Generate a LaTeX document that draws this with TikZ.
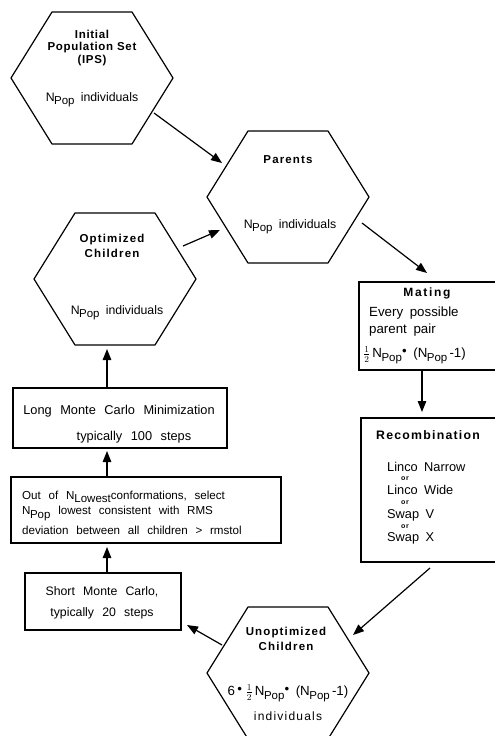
\documentclass[tikz,border=0pt]{standalone}
\usepackage{fontspec}
\setmainfont{Liberation Sans}[WordSpace=2.4]
\newfontfamily\plainfam{Liberation Sans}
\newfontfamily\midfam{Liberation Sans}[WordSpace=1.8]
\newfontfamily\titlefam{Liberation Sans}[LetterSpace=10,WordSpace=1.2]
\newfontfamily\titletight{Liberation Sans}[LetterSpace=6,WordSpace=1.0]
\newfontfamily\titlewide{Liberation Sans}[LetterSpace=14]
\usetikzlibrary{arrows.meta,calc}
\newcommand\Np{N\kern-0.5pt\raisebox{-0.5ex}{\fontsize{11.5}{11.5}\selectfont Pop}}
\newcommand\Nlow{N\raisebox{-0.5ex}{\fontsize{11.5}{11.5}\selectfont Lowest}}
\newcommand\halfof{$\frac{1}{2}$}
\newcommand\mdot{\raisebox{0.35ex}{\textbullet}}
\newcommand\orword{{\titlefam\bfseries\fontsize{7}{7}\selectfont or}}
\tikzset{
  x=1pt, y=-1pt,
  hexbox/.style={draw=none, minimum width=162pt, minimum height=132pt, inner sep=0pt, outer sep=0pt},
  hexline/.style={line width=1.2pt, line join=round},
  boxnode/.style={draw, line width=1.1pt, inner sep=0pt, outer sep=0pt},
  ttl/.style={font=\titlefam\bfseries\fontsize{11.5}{15.5}\selectfont, inner sep=0pt, align=center},
  ttlw/.style={font=\titlewide\bfseries\fontsize{12}{15}\selectfont, inner sep=0pt, align=center},
  txt/.style={font=\fontsize{12.3}{16.5}\selectfont, inner sep=0pt},
  txtn/.style={font=\plainfam\fontsize{12.8}{17}\selectfont, inner sep=0pt},
  txtm/.style={font=\midfam\fontsize{13.3}{17}\selectfont, inner sep=0pt},
  hexn/.style={font=\plainfam\fontsize{12.3}{15}\selectfont, inner sep=0pt},
  arr/.style={line width=1.2pt, -{Triangle[length=11pt,width=8.5pt]}},
}
\newcommand\hexat[2]{%
  \node[hexbox] (#1) at (#2) {};
  \draw[hexline] (#1.west) -- ([xshift=41pt]#1.north west) -- ([xshift=-41pt]#1.north east)
    -- (#1.east) -- ([xshift=-41pt]#1.south east) -- ([xshift=41pt]#1.south west) -- cycle;}
\begin{document}
\begin{tikzpicture}
\useasboundingbox (0,0) rectangle (495,736);
\clip (0,0) rectangle (495,736);
\fill[white] (0,0) rectangle (495,736);

% hexagons
\hexat{ips}{92,78}
\hexat{parents}{288,197}
\hexat{opt}{115,279}
\hexat{unopt}{288,673}

% boxes
\node[boxnode, minimum width=138pt, minimum height=88pt] (mating) at (428,326) {};
\node[boxnode, minimum width=136pt, minimum height=144pt] (recomb) at (429,490) {};
\node[boxnode, minimum width=214pt, minimum height=60pt] (longmc) at (120,418) {};
\node[boxnode, minimum width=270pt, minimum height=66pt] (select) at (146,510) {};
\node[boxnode, minimum width=156pt, minimum height=57pt] (shortmc) at (103,601.5) {};

% hexagon texts
\node[ttl, font=\titletight\bfseries\fontsize{11.5}{12.8}\selectfont] (ipsT) at (92,48) {Initial\\Population Set\\(IPS)};
\node[hexn] (ipsN) at (92,100) {\Np\ individuals};
\node[ttl] (parT) at (288,160) {Parents};
\node[hexn] (parN) at (290,227) {\Np\ individuals};
\node[ttl] (optT) at (112,246) {Optimized\\Children};
\node[hexn] (optN) at (117,313) {\Np\ individuals};
\node[ttl] (unT) at (286,639) {Unoptimized\\Children};
\node[txtm] (unF) at (288,693) {6\,\mdot\;\halfof\,\Np\mdot\ (\Np\,-1)};
\node[ttl, font=\titlefam\fontsize{12}{15}\selectfont] (unI) at (288,716) {individuals};

% box texts
\node[ttlw] (matT) at (427,293) {Mating};
\node[txtm, anchor=west, align=left] (matE) at (369,321.5) {Every possible\\parent pair};
\node[txtm, anchor=west] (matF) at (363,355) {\halfof\,\Np\mdot\ (\Np\,-1)};
\node[ttlw, font=\titlefam\bfseries\fontsize{12.3}{15}\selectfont] (recT) at (428,435) {Recombination};
\node[txtn, anchor=west] (rec1) at (387,467) {Linco Narrow};
\node[inner sep=0pt] (or1) at (405,478.5) {\orword};
\node[txtn, anchor=west] (rec2) at (387,490) {Linco Wide};
\node[inner sep=0pt] (or2) at (405,502.5) {\orword};
\node[txtn, anchor=west] (rec3) at (387,515) {Swap V};
\node[inner sep=0pt] (or3) at (405,526.5) {\orword};
\node[txtn, anchor=west] (rec4) at (387,538) {Swap X};
\node[txt, font=\fontsize{12.8}{16.5}\selectfont] (long1) at (119,411) {Long Monte Carlo Minimization};
\node[txt, font=\fontsize{12.8}{16.5}\selectfont] (long2) at (134,437) {typically 100 steps};
\node[txt, font=\fontsize{11.6}{16}\selectfont, anchor=west] (sel1) at (22,497) {Out of \Nlow conformations, select};
\node[txt, font=\fontsize{11.6}{16}\selectfont, anchor=west] (sel2) at (22,513.5) {\Np\ lowest consistent with RMS};
\node[txt, font=\fontsize{11.6}{16}\selectfont, anchor=west] (sel3) at (22,530) {deviation between all children > rmstol};
\node[txt] (short1) at (102,592) {Short Monte Carlo,};
\node[txt] (short2) at (102,613) {typically 20 steps};

% connectors
\draw[arr] ($(ips.center)+(62,35)$) -- ($(parents.center)+(-66,-34)$);
\draw[arr] ($(parents.center)+(74,26)$) -- ($(mating.north)+(-1,-9)$);
\draw[arr] ($(mating.south)+(-6,0)$) -- ($(recomb.north)+(-7,-6)$);
\draw[arr] ($(recomb.south)+(1,6)$) -- ($(unopt.center)+(65,-38)$);
\draw[arr] ($(unopt.center)+(-66,-28)$) -- ($(shortmc.south east)+(6,-5)$);
\draw[arr] ($(shortmc.north)+(4,0)$) -- ($(select.south)+(-39,4)$);
\draw[arr] ($(select.north)+(-39,0)$) -- ($(longmc.south)+(-13,3)$);
\draw[arr] ($(longmc.north)+(-13,0)$) -- ($(opt.south)+(-8,4)$);
\draw[arr] ($(opt.center)+(68,-33)$) -- ($(parents.center)+(-68,33)$);
\end{tikzpicture}
\end{document}
